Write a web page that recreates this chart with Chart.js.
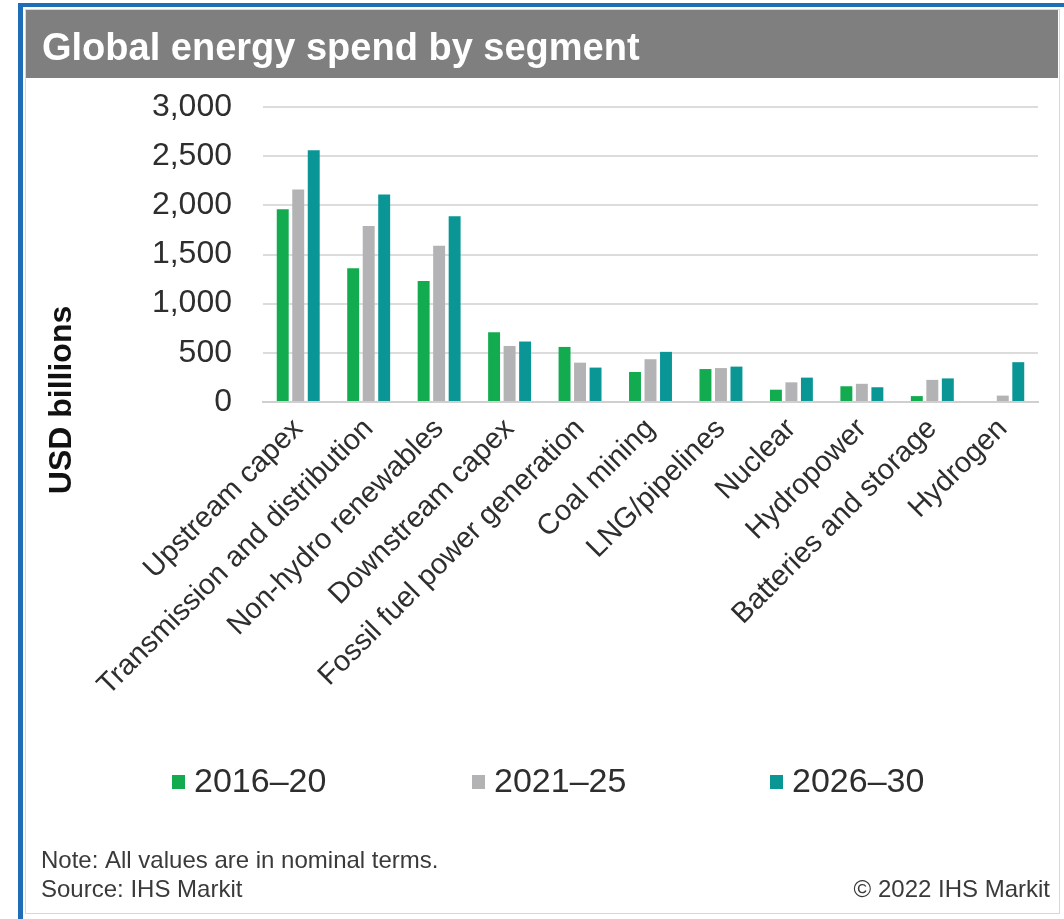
<!DOCTYPE html>
<html>
<head>
<meta charset="utf-8">
<script src="https://cdn.jsdelivr.net/npm/chart.js@4.4.1/dist/chart.umd.min.js"></script>
<style>
  html, body { margin: 0; padding: 0; background: #fff; }
  #wrap { width: 1064px; height: 919px; }
</style>
</head>
<body>
<div id="wrap"><canvas id="chart" width="1064" height="919"></canvas></div>
<script>
const categories = [
  "Upstream capex",
  "Transmission and distribution",
  "Non-hydro renewables",
  "Downstream capex",
  "Fossil fuel power generation",
  "Coal mining",
  "LNG/pipelines",
  "Nuclear",
  "Hydropower",
  "Batteries and storage",
  "Hydrogen",
];
const series2016 = [1960, 1360, 1230, 710, 560, 305, 335, 125, 160, 60, 0];
const series2021 = [2160, 1790, 1590, 570, 400, 435, 345, 200, 185, 225, 65];
const series2026 = [2560, 2110, 1890, 615, 350, 510, 360, 248, 150, 240, 405];
const seriesLabels = ["2016\u201320", "2021\u201325", "2026\u201330"];
const yTicks = [0, 500, 1000, 1500, 2000, 2500, 3000];

const colors = ["#12ab4f", "#b3b2b4", "#0b9696"];
const FONT = "'Liberation Sans', Arial, sans-serif";

// frame, title bar, legend and notes drawn around the chart
const decor = {
  id: "decor",
  beforeDraw(chart) {
    const ctx = chart.ctx;
    ctx.save();
    ctx.fillStyle = "#fff";
    ctx.fillRect(0, 0, 1064, 919);
    // blue outer frame
    ctx.fillStyle = "#1f6db6";
    ctx.fillRect(18, 3, 1046, 4);
    ctx.fillRect(18, 3, 5, 916);
    // light panel border
    ctx.strokeStyle = "#d8d8d8";
    ctx.lineWidth = 1;
    ctx.strokeRect(25.5, 9.5, 1034, 904);
    // title bar
    ctx.fillStyle = "#7f7f7f";
    ctx.fillRect(26, 10, 1032, 68);
    ctx.fillStyle = "#fff";
    ctx.font = "bold 38px " + FONT;
    ctx.textBaseline = "alphabetic";
    ctx.fillText("Global energy spend by segment", 42, 60);
    ctx.restore();
  },
  afterDraw(chart) {
    const ctx = chart.ctx;
    ctx.save();
    // y axis title
    ctx.translate(62, 400);
    ctx.rotate(-Math.PI / 2);
    ctx.fillStyle = "#111";
    ctx.font = "bold 32px " + FONT;
    ctx.textAlign = "center";
    ctx.textBaseline = "middle";
    ctx.fillText("USD billions", 0, 0);
    ctx.restore();

    // legend
    ctx.save();
    const legendX = [172, 472, 770];
    ctx.font = "34px " + FONT;
    ctx.textBaseline = "middle";
    chart.data.datasets.forEach((ds, i) => {
      ctx.fillStyle = ds.backgroundColor;
      ctx.fillRect(legendX[i], 775, 13, 14);
      ctx.fillStyle = "#2e2e2e";
      ctx.fillText(ds.label, legendX[i] + 22, 783);
    });

    // notes
    ctx.font = "24px " + FONT;
    ctx.fillStyle = "#3a3a3a";
    ctx.textBaseline = "alphabetic";
    ctx.fillText("Note: All values are in nominal terms.", 41, 868);
    ctx.fillText("Source: IHS Markit", 41, 897);
    ctx.textAlign = "right";
    ctx.fillText("\u00a9 2022 IHS Markit", 1050, 897);
    ctx.restore();
  },
};

const ctx = document.getElementById("chart").getContext("2d");
new Chart(ctx, {
  type: "bar",
  data: {
    labels: categories,
    datasets: [
      { label: seriesLabels[0], data: series2016, backgroundColor: colors[0] },
      { label: seriesLabels[1], data: series2021, backgroundColor: colors[1] },
      { label: seriesLabels[2], data: series2026, backgroundColor: colors[2] },
    ],
  },
  options: {
    responsive: false,
    animation: false,
    categoryPercentage: 0.66,
    barPercentage: 0.77,
    layout: { padding: { left: 39, right: 26, top: 107, bottom: 0 } },
    plugins: {
      legend: { display: false },
      tooltip: { enabled: false },
    },
    scales: {
      x: {
        grid: { display: false },
        border: { display: true, color: "#cfcfcf", width: 2 },
        ticks: {
          autoSkip: false,
          maxRotation: 45,
          minRotation: 45,
          padding: 2,
          color: "#2e2e2e",
          font: { family: FONT, size: 29 },
        },
        afterFit: (s) => { s.height = 517; },
      },
      y: {
        min: 0,
        max: 3000,
        afterBuildTicks: (s) => { s.ticks = yTicks.map((v) => ({ value: v })); },
        grid: { color: "#dcdcdc", lineWidth: 2, drawTicks: false },
        border: { display: false },
        ticks: {
          padding: 31,
          color: "#2e2e2e",
          font: { family: FONT, size: 32 },
        },
        afterFit: (s) => { s.width = 224; },
      },
    },
  },
  plugins: [decor],
});
</script>
</body>
</html>
